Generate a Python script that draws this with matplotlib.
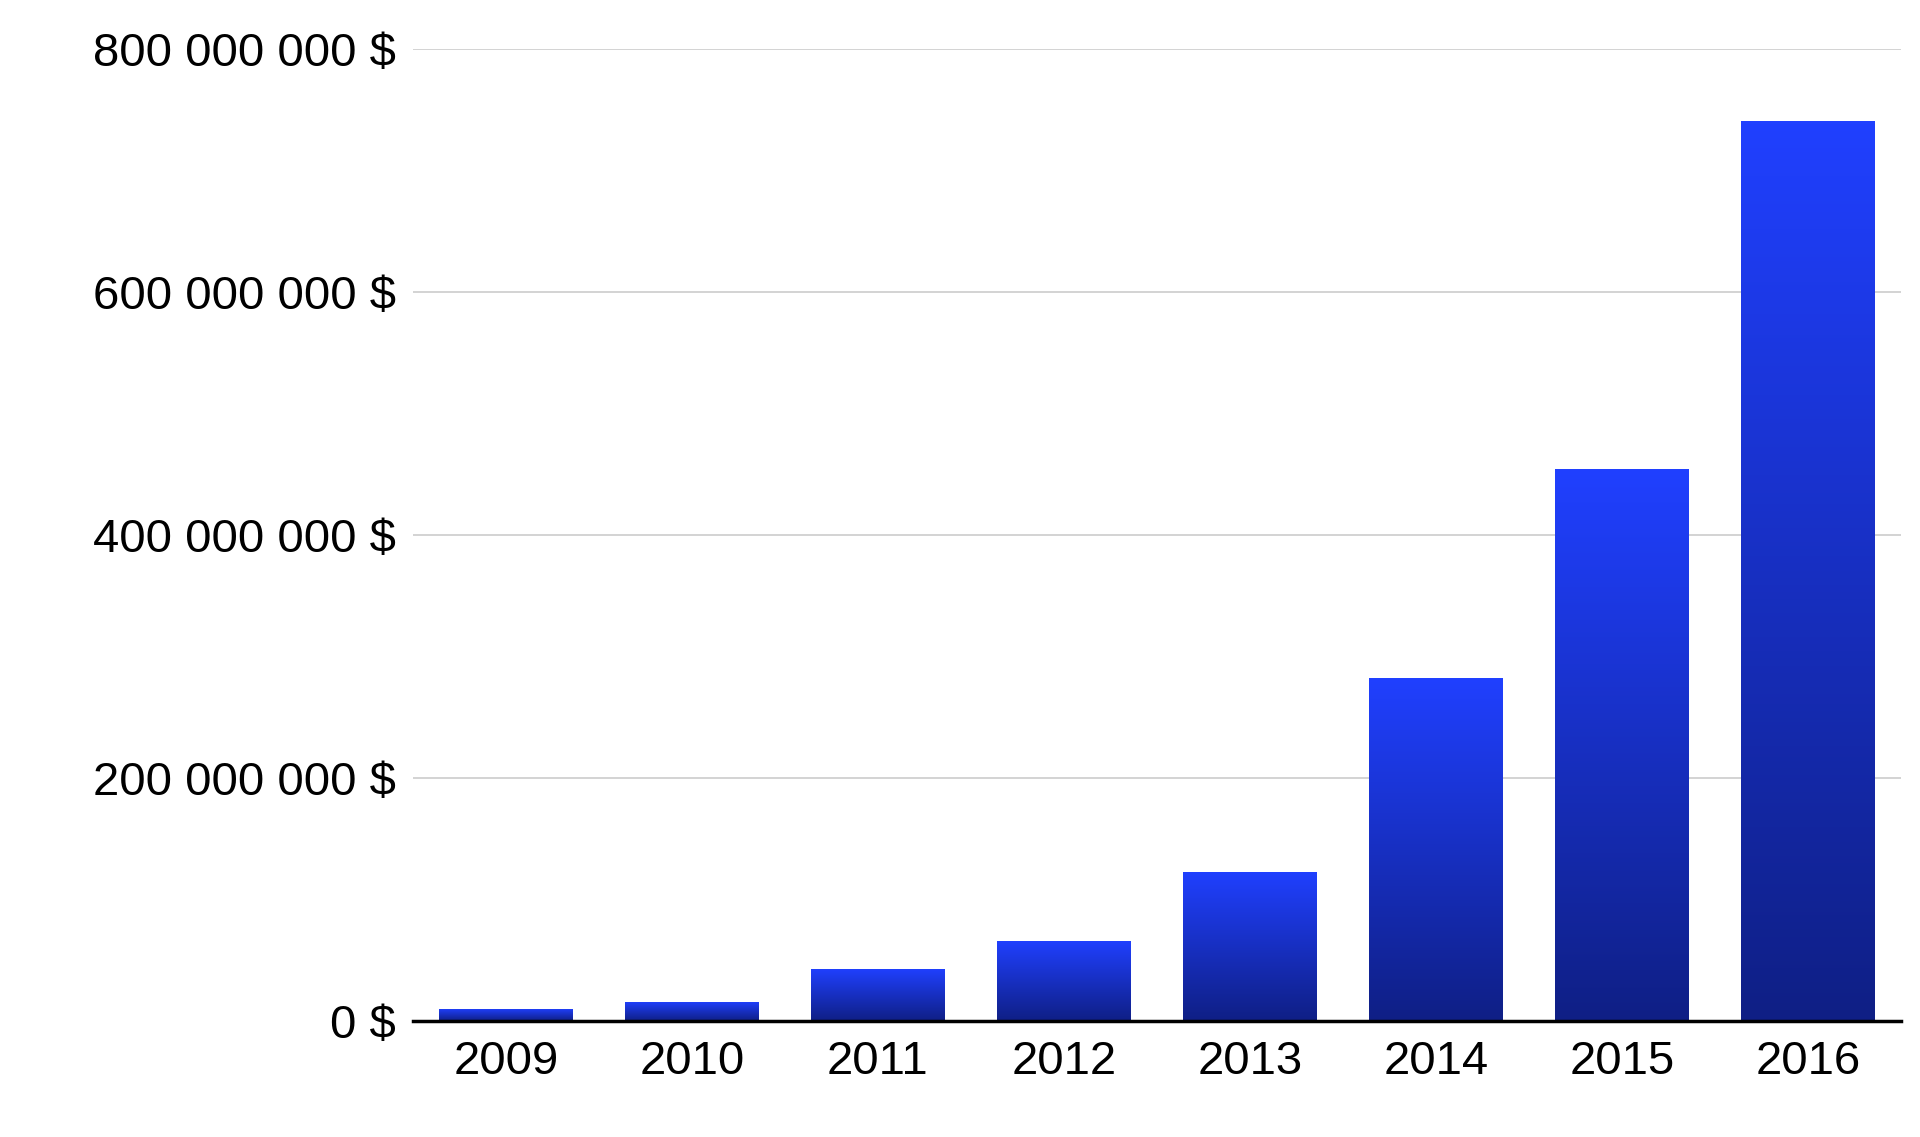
import matplotlib
matplotlib.use("Agg")
import matplotlib.pyplot as plt
import numpy as np
from matplotlib.colors import LinearSegmentedColormap

years = ["2009", "2010", "2011", "2012", "2013", "2014", "2015", "2016"]
values = [10e6, 16e6, 43e6, 66e6, 123e6, 282e6, 454e6, 741e6]
yticks = [0, 200e6, 400e6, 600e6, 800e6]
ytick_labels = ["0 $", "200 000 000 $", "400 000 000 $", "600 000 000 $", "800 000 000 $"]

plt.rcParams['font.family'] = ['Liberation Sans', 'DejaVu Sans']
fig = plt.figure(figsize=(19.2, 11.37), dpi=100)
ax = fig.add_axes([0.215, 0.102, 0.775, 0.855])

cmap = LinearSegmentedColormap.from_list("g", ["#0f1f85", "#2040ff"])
grad = np.linspace(0, 1, 256).reshape(-1, 1)
x = np.arange(len(years))
bars = ax.bar(x, values, width=0.72, color="none", edgecolor="none", zorder=3)
for b in bars:
    x0, w, h = b.get_x(), b.get_width(), b.get_height()
    im = ax.imshow(grad, extent=[x0, x0 + w, 0, h], origin="lower", aspect="auto",
                   cmap=cmap, zorder=3)
    im.set_clip_path(b)

ax.set_xlim(-0.5, len(years) - 0.5)
ax.set_ylim(0, 800e6)
ax.set_yticks(yticks)
ax.set_yticklabels(ytick_labels)
ax.set_xticks(x)
ax.set_xticklabels(years)
ax.yaxis.grid(True, color="#cccccc", linewidth=1.2, zorder=0)
for s in ["top", "right", "left"]:
    ax.spines[s].set_visible(False)
ax.spines["bottom"].set_linewidth(2.5)
ax.spines["bottom"].set_zorder(4)
ax.tick_params(axis="both", length=0, labelsize=34)
ax.tick_params(axis="x", pad=14)
ax.tick_params(axis="y", pad=12)
fig.savefig("out.png", dpi=100)
